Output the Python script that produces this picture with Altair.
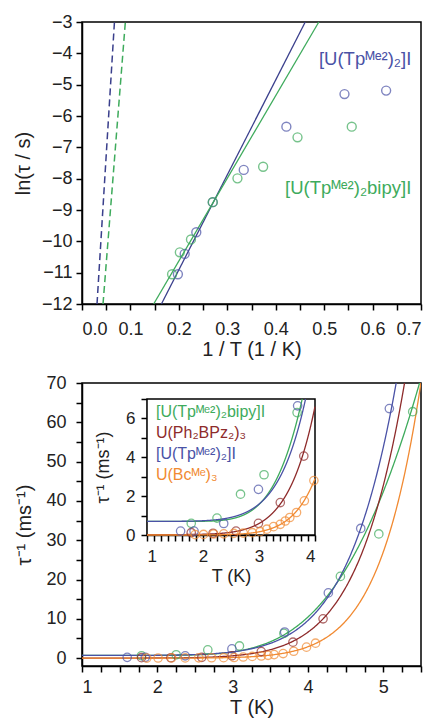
import altair as alt
import numpy as np
import pandas as pd

FONT = "Liberation Sans"
BLUE = "#4a52a6"
NAVY = "#3a3f8c"
GREEN = "#3eab5c"
BROWN = "#8e2b2b"
ORANGE = "#f18a32"

# ---------------- top panel (ln(tau) vs 1/T) ----------------
top_blue_x = [0.198, 0.212, 0.236, 0.270, 0.334, 0.422, 0.542, 0.628]
top_blue_y = [-11.05, -10.40, -9.71, -8.75, -7.72, -6.34, -5.30, -5.19]
top_green_x = [0.186, 0.202, 0.225, 0.270, 0.321, 0.374, 0.445, 0.557]
top_green_y = [-11.05, -10.35, -9.94, -8.75, -7.99, -7.62, -6.68, -6.34]

fit_y_ends = [-12, -3]
fit_solid_blue_x = [0.164, 0.461]
fit_solid_green_x = [0.148, 0.489]
fit_dash_blue_x = [0.031, 0.067]
fit_dash_green_x = [0.0434, 0.0895]

# ---------------- bottom panel (tau^-1 vs T) ----------------
blue_T = [1.60, 1.84, 2.37, 2.99, 3.69, 4.27, 4.70, 5.08]
blue_v = [0.20, 0.20, 0.59, 2.35, 6.65, 16.6, 33.0, 63.5]
green_T = [1.79, 2.25, 2.67, 3.09, 3.68, 4.43, 4.94, 5.39]
green_v = [0.60, 0.87, 2.10, 3.10, 6.30, 20.8, 31.6, 62.7]
brown_T = [1.79, 2.18, 2.59, 2.99, 3.38, 3.80, 4.20]
brown_v = [0.12, 0.09, 0.20, 0.60, 1.67, 4.06, 10.0]
orange_T = [1.86, 2.01, 2.19, 2.37, 2.55, 2.72, 2.88, 3.02, 3.14, 3.26,
            3.38, 3.47, 3.55, 3.67, 3.81, 3.98, 4.10]
orange_v = [0.02, 0.03, 0.05, 0.06, 0.08, 0.10, 0.12, 0.17, 0.30, 0.43,
            0.55, 0.72, 0.90, 1.16, 1.76, 2.80, 3.80]

# fit parameters: tau^-1 = A + C * T^n + B * exp(-U / T)   (ms^-1, K)
fit_params = {
    "bipy": dict(A=0.70, C=0.0, n=0.0, B=13760.0, U=29.0),
    "Ph": dict(A=0.02, C=5.03e-5, n=8.5, B=0.0, U=1.0),
    "Tp": dict(A=0.70, C=1.357e-4, n=8.0, B=0.0, U=1.0),
    "Bc": dict(A=0.00, C=2.77e-6, n=10.0, B=0.0, U=1.0),
}

series = ["bipy", "Ph", "Tp", "Bc"]
colors = [GREEN, BROWN, BLUE, ORANGE]
cmap = dict(zip(series, colors))
labels = ["[U(Tpᴹᵉ²)₂bipy]I", "U(Ph₂BPz₂)₃", "[U(Tpᴹᵉ²)₂]I", "U(Bcᴹᵉ)₃"]
label_y = [6.32, 5.23, 4.18, 3.10]

col = alt.Color("c:N", scale=None, legend=None)

axis_common = dict(
    labelFont=FONT, titleFont=FONT, labelFontSize=18, titleFontSize=20,
    labelColor="#222", titleColor="#222", titleFontWeight="normal",
    domainColor="black", domainWidth=1.5, tickColor="black", tickWidth=1.5,
    tickSize=6, grid=False, labelOverlap=False,
)
inset_common = dict(axis_common, labelFontSize=17, titleFontSize=18)

# ---------- top ----------
tx = alt.Scale(domain=[0, 0.7], nice=False)
ty = alt.Scale(domain=[-12, -3], nice=False)
top_x_axis = alt.Axis(
    title="1 / T (1 / K)",
    values=[round(i * 0.05, 2) for i in range(15)],
    labelExpr="round(datum.value*20) % 2 == 0 ? format(datum.value, '.1f') : ''",
    labelPadding=10, titlePadding=1, **axis_common,
)
top_y_axis = alt.Axis(
    title="ln(τ / s)", values=list(range(-12, -2)), labelPadding=4,
    titlePadding=8, **axis_common,
)
TX = alt.X("x:Q", scale=tx, axis=top_x_axis)
TY = alt.Y("y:Q", scale=ty, axis=top_y_axis)

top_pts = pd.DataFrame({
    "x": top_blue_x + top_green_x,
    "y": top_blue_y + top_green_y,
    "c": [BLUE] * len(top_blue_x) + [GREEN] * len(top_green_x),
})
solid = pd.DataFrame({
    "x": fit_solid_blue_x + fit_solid_green_x,
    "y": fit_y_ends * 2,
    "c": [NAVY, NAVY, GREEN, GREEN],
})
dashed = pd.DataFrame({
    "x": fit_dash_blue_x + fit_dash_green_x,
    "y": fit_y_ends * 2,
    "c": [NAVY, NAVY, GREEN, GREEN],
})

solid_ch = alt.Chart(solid).mark_line(strokeWidth=1.3).encode(
    x=TX, y=TY, color=col, detail="c:N")
dashed_ch = alt.Chart(dashed).mark_line(strokeWidth=1.5, strokeDash=[7, 4]).encode(
    x=TX, y=TY, color=col, detail="c:N")
top_pts_ch = alt.Chart(top_pts).mark_point(
    shape="circle", filled=False, size=80, strokeWidth=1.4).encode(
    x=TX, y=TY, color=col)
top_lab = pd.DataFrame({"x": [0.68, 0.68], "y": [-4.18, -8.30],
                        "t": ["[U(Tpᴹᵉ²)₂]I", "[U(Tpᴹᵉ²)₂bipy]I"],
                        "c": [BLUE, GREEN]})
top_lab_ch = alt.Chart(top_lab).mark_text(
    align="right", baseline="middle", font=FONT, fontSize=18.5).encode(
    x=TX, y=TY, text="t:N", color=col)
top = alt.layer(solid_ch, dashed_ch, top_pts_ch, top_lab_ch).properties(width=339, height=282)

# ---------- bottom ----------
pts = pd.DataFrame({
    "T": green_T + brown_T + blue_T + orange_T,
    "v": green_v + brown_v + blue_v + orange_v,
    "c": [GREEN] * len(green_T) + [BROWN] * len(brown_T) + [BLUE] * len(blue_T) + [ORANGE] * len(orange_T),
})

def model(s, T):
    p = fit_params[s]
    return p["A"] + p["C"] * T ** p["n"] + p["B"] * np.exp(-p["U"] / T)

grid = np.linspace(1.0, 5.5, 451)
rows = []
for s in series:
    for T in grid:
        rows.append({"T": T, "v": model(s, T), "c": cmap[s]})
curves = pd.DataFrame(rows)

# inset curves: restricted to the inset window, ending where each curve leaves it
irows = []
for s in series:
    fine = np.linspace(1.0, 4.0, 3001)
    vals = model(s, fine)
    keep = vals <= 7.0
    Tk, vk = fine[keep], vals[keep]
    if not keep.all():
        i = int(np.argmax(~keep))
        T0, T1, v0, v1 = fine[i - 1], fine[i], vals[i - 1], vals[i]
        Tk = np.append(Tk, T0 + (7.0 - v0) * (T1 - T0) / (v1 - v0))
        vk = np.append(vk, 7.0)
    for T, v in zip(Tk, vk):
        irows.append({"T": T, "v": v, "c": cmap[s]})
icurves = pd.DataFrame(irows)
ipts = pts[(pts["T"] <= 4.0) & (pts["v"] <= 7.0)]

mx = alt.Scale(domain=[1, 5.5], nice=False)
my = alt.Scale(domain=[-2, 70], nice=False)
main_x_axis = alt.Axis(
    title="T (K)", values=[1 + 0.25 * i for i in range(19)],
    labelExpr="datum.value % 1 == 0 ? format(datum.value, 'd') : ''",
    labelPadding=6, titlePadding=1, **axis_common,
)
main_y_axis = alt.Axis(
    title="τ⁻¹ (ms⁻¹)", values=list(range(0, 71, 5)),
    labelExpr="datum.value % 10 == 0 ? datum.label : ''",
    labelPadding=10, titlePadding=11, **axis_common,
)
MX = alt.X("T:Q", scale=mx, axis=main_x_axis)
MY = alt.Y("v:Q", scale=my, axis=main_y_axis)

main_lines = alt.Chart(curves).mark_line(strokeWidth=1.3, clip=True).encode(
    x=MX, y=MY, color=col, detail="c:N")
main_pts = alt.Chart(pts).mark_point(
    shape="circle", filled=False, size=70, strokeWidth=1.3, clip=True).encode(
    x=MX, y=MY, color=col)
main = alt.layer(main_lines, main_pts)

ix = alt.Scale(domain=[1, 4], range=[65, 233], nice=False)
iy = alt.Scale(domain=[0, 7], range=[152, 16], nice=False)
inset_x_axis = alt.Axis(
    title="T (K)", orient="bottom", offset=-131,
    values=[1 + 0.125 * i for i in range(25)],
    labelExpr="datum.value % 1 == 0 ? format(datum.value, 'd') : ''",
    labelPadding=7, titlePadding=3, **inset_common,
)
inset_y_axis = alt.Axis(
    title="τ⁻¹ (ms⁻¹)", orient="left", offset=-65, values=list(range(0, 8)),
    labelExpr="datum.value % 2 == 0 ? datum.label : ''",
    labelPadding=6, titlePadding=13, **inset_common,
)
IX = alt.X("T:Q", scale=ix, axis=inset_x_axis)
IY = alt.Y("v:Q", scale=iy, axis=inset_y_axis)

frame = pd.DataFrame({"T": [1], "T2": [4], "v": [0], "v2": [7]})
inset_rect = alt.Chart(frame).mark_rect(fill="white", stroke="black", strokeWidth=1.5).encode(
    x=IX, x2="T2:Q", y=IY, y2="v2:Q")
inset_lines = alt.Chart(icurves).mark_line(strokeWidth=1.3).encode(
    x=IX, y=IY, color=col, detail="c:N")
inset_pts = alt.Chart(ipts).mark_point(
    shape="circle", filled=False, size=70, strokeWidth=1.3).encode(
    x=IX, y=IY, color=col)
leg = pd.DataFrame({"T": [1.16] * 4, "v": label_y, "t": labels, "c": colors})
inset_text = alt.Chart(leg).mark_text(
    align="left", baseline="middle", font=FONT, fontSize=16).encode(
    x=IX, y=IY, text="t:N", color=col)
inset = alt.layer(inset_rect, inset_lines, inset_pts, inset_text)

bottom = alt.layer(main, inset).resolve_scale(x="independent", y="independent").properties(
    width=339, height=283)

chart = alt.vconcat(top, bottom, spacing=13).properties(
    padding={"left": 4, "top": 4, "right": 0, "bottom": 0},
    background="white",
).configure_view(stroke="black", strokeWidth=1.5)

chart.save("out.html", embed_options={"renderer": "svg", "actions": False})
